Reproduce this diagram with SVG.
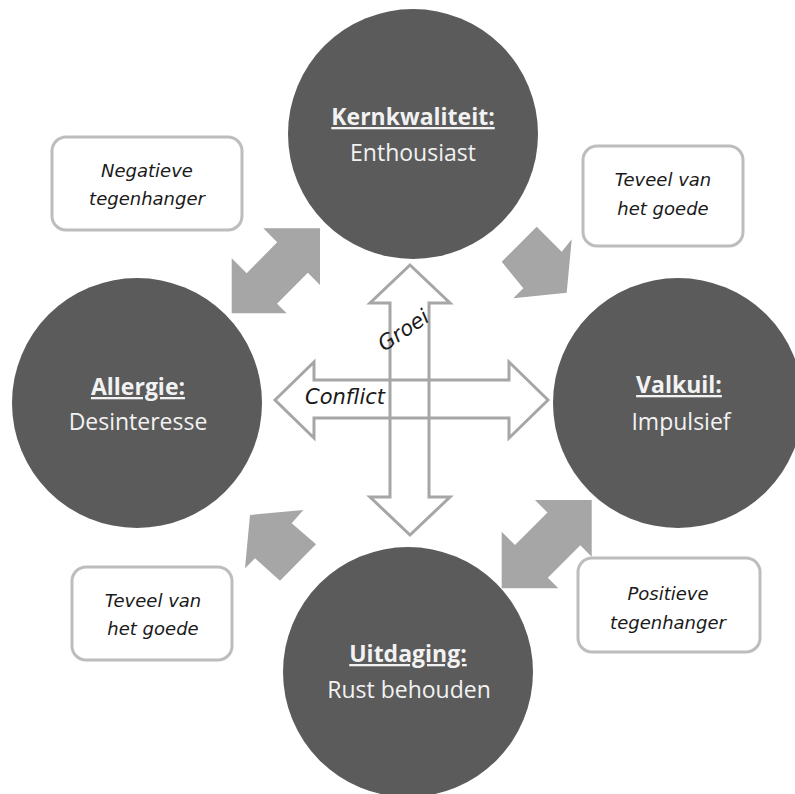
<svg xmlns="http://www.w3.org/2000/svg" width="795" height="794" viewBox="0 0 795 794">
<style>
.circ{fill:#5b5b5b}
.title{font-family:"Open Sans","Noto Sans",sans-serif;font-size:23px;font-weight:bold;fill:#f2f2f2;text-anchor:middle;text-decoration:underline}
.sub{font-family:"Open Sans","Noto Sans",sans-serif;font-size:23px;fill:#f2f2f2;text-anchor:middle}
.box{fill:#ffffff;stroke:#bdbdbd;stroke-width:3}
.lbl{font-family:"DejaVu Sans",sans-serif;font-style:italic;font-size:18px;fill:#1a1a1a;text-anchor:middle}
.blk{fill:#a6a6a6}
.outl{fill:none;stroke:#a6a6a6;stroke-width:3;stroke-linejoin:miter}
.hand{font-family:"DejaVu Sans",sans-serif;font-style:italic;font-size:21px;fill:#1a1a1a}
</style>
<rect width="795" height="794" fill="#ffffff"/>

<g id="connectors">
  <polygon class="blk" points="320,228.3 320,285 307.8,272.8 277,303.7 286.7,313.3 231.7,313.3 231.7,258.3 246.7,273.3 277.2,242.2 263.3,228.3"/>
  <polygon class="blk" points="535,500 591.7,500 591.7,556.7 580.3,545.3 547.8,577.8 558.3,588.3 501.7,588.3 501.7,531.7 515,545 547.5,512.5"/>
  <polygon class="blk" points="536.7,226.7 561.7,251.7 571.7,239.3 566.7,292.7 513.3,298.3 523.3,288.3 501.7,261.7"/>
  <polygon class="blk" points="250,515 303.3,510 291.7,523.3 316,544.3 280,580.7 255,558.3 245,568.3"/>
  <polygon class="outl" points="410,265 450,303 429,303 429,497 450,497 410,535 370,497 390,497 390,303 370,303"/>
  <polygon class="outl" points="275,400 314,362 314,380 509,380 509,362 548,400 509,438 509,418 314,418 314,438"/>
  <text class="hand" x="305" y="404">Conflict</text>
  <text class="hand" x="384" y="352" transform="rotate(-34 384 352)">Groei</text>
</g>

<g id="kernkwaliteit">
  <circle class="circ" cx="413" cy="134" r="125"/>
  <text class="title" x="413" y="125">Kernkwaliteit:</text>
  <text class="sub" x="413" y="161">Enthousiast</text>
</g>
<g id="allergie">
  <circle class="circ" cx="137" cy="403" r="125"/>
  <text class="title" x="138" y="395">Allergie:</text>
  <text class="sub" x="138" y="430">Desinteresse</text>
</g>
<g id="valkuil">
  <circle class="circ" cx="678" cy="403" r="125"/>
  <text class="title" x="679" y="393">Valkuil:</text>
  <text class="sub" x="681" y="430">Impulsief</text>
</g>
<g id="uitdaging">
  <circle class="circ" cx="408" cy="672" r="125"/>
  <text class="title" x="408" y="662">Uitdaging:</text>
  <text class="sub" x="409" y="698">Rust behouden</text>
</g>

<g id="negatieve-tegenhanger">
  <rect class="box" x="52" y="137" width="190" height="93" rx="14"/>
  <text class="lbl" x="147" y="177">Negatieve</text>
  <text class="lbl" x="147" y="205">tegenhanger</text>
</g>
<g id="teveel-boven">
  <rect class="box" x="583" y="146" width="160" height="100" rx="14"/>
  <text class="lbl" x="663" y="186">Teveel van</text>
  <text class="lbl" x="663" y="215">het goede</text>
</g>
<g id="teveel-onder">
  <rect class="box" x="72" y="567" width="160" height="93" rx="14"/>
  <text class="lbl" x="153" y="607">Teveel van</text>
  <text class="lbl" x="153" y="635">het goede</text>
</g>
<g id="positieve-tegenhanger">
  <rect class="box" x="578" y="558" width="182" height="94" rx="14"/>
  <text class="lbl" x="668" y="600">Positieve</text>
  <text class="lbl" x="668" y="629">tegenhanger</text>
</g>
</svg>
